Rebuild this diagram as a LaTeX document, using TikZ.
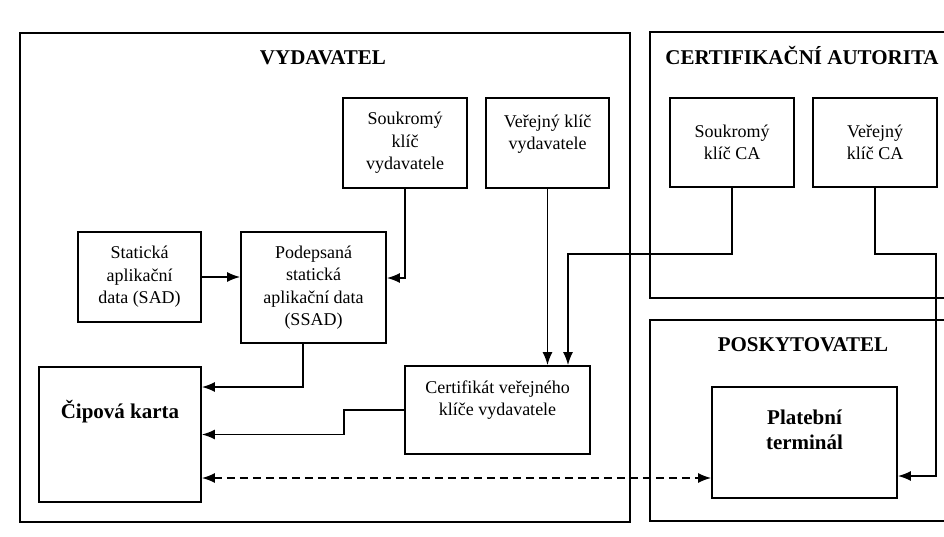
\documentclass[tikz,border=0pt]{standalone}
\usepackage{fontspec}
\setmainfont{Liberation Serif}
\usetikzlibrary{arrows.meta}

\tikzset{
  group/.style={draw, line width=1.3pt, inner sep=0pt},
  box/.style={draw, line width=1.6pt, inner sep=0pt, align=center,
    font=\fontsize{18}{22.5}\selectfont},
  txt/.style={align=center, font=\fontsize{18}{22.5}\selectfont},
  title/.style={font=\fontsize{21}{25}\selectfont\bfseries},
  arr/.style={line width=1.8pt, -{Latex[length=13pt,width=10pt]}},
}

\begin{document}
\begin{tikzpicture}[x=1pt,y=-1pt]
\useasboundingbox (0,0) rectangle (944,536);

% groups
\node[group, minimum width=610, minimum height=489] (vyd) at (325,277.5) {};
\node[group, minimum width=310, minimum height=266] (ca) at (805,165) {};
\node[group, minimum width=310, minimum height=201] (posk) at (805,420.5) {};

\node[title] (vydt) at (323,58) {VYDAVATEL};
\node[title] (cat) at (802,55) {CERTIFIKAČNÍ AUTORITA};
\node[title] (poskt) at (803,345) {POSKYTOVATEL};

% keys
\node[box, minimum width=124, minimum height=90] (skv) at (405,143) {Soukromý\\klíč\\vydavatele};
\node[box, minimum width=123, minimum height=90] (vkv) at (547.5,143) {};
\node[txt] (vkvt) at (547.5,134) {Veřejný klíč\\vydavatele};
\node[box, minimum width=124, minimum height=89] (skca) at (732,142.5) {Soukromý\\klíč CA};
\node[box, minimum width=124, minimum height=89] (vkca) at (875,142.5) {Veřejný\\klíč CA};

% data
\node[box, minimum width=123, minimum height=90] (sad) at (139.5,277) {Statická\\aplikační\\data (SAD)};
\node[box, minimum width=145, minimum height=111] (ssad) at (313.5,287.5) {Podepsaná\\statická\\aplikační data\\(SSAD)};
\node[box, minimum width=162, minimum height=135] (chip) at (120,434.5) {};
\node[title] (chipt) at (120,412) {Čipová karta};
\node[box, minimum width=185, minimum height=88] (cert) at (497.5,410) {};
\node[txt] (certt) at (497.5,400) {Certifikát veřejného\\klíče vydavatele};
\node[box, minimum width=185, minimum height=111] (term) at (804.5,442.5) {};
\node[title, align=center] (termt) at (804.5,430) {Platební\\terminál};

% connectors
\draw[arr] (sad.east) -- (sad.east -| ssad.west);
\draw[arr] (skv.south) |- ([yshift=9.5pt]ssad.east);
\draw[arr] ([xshift=-10.5pt]ssad.south) |- ([yshift=47.5pt]chip.east);
\draw[arr] (cert.west) -- ++(-60,0) |- (chip.east);
\draw[arr, dash pattern=on 8pt off 5pt, {Latex[length=13pt,width=10pt]}-{Latex[length=13pt,width=10pt]}]
  ([yshift=-43.5pt]chip.east) -- ([yshift=-43.5pt]chip.east -| term.west);
\draw[arr] (vkv.south) -- (vkv.south |- cert.north);
\draw[arr] (skca.south) -- ++(0,66) -| ([xshift=70.5pt]cert.north);
\draw[arr] (vkca.south) -- ++(0,66) -- ++(61,0) |- ([yshift=-33.5pt]term.east);

\end{tikzpicture}
\end{document}
